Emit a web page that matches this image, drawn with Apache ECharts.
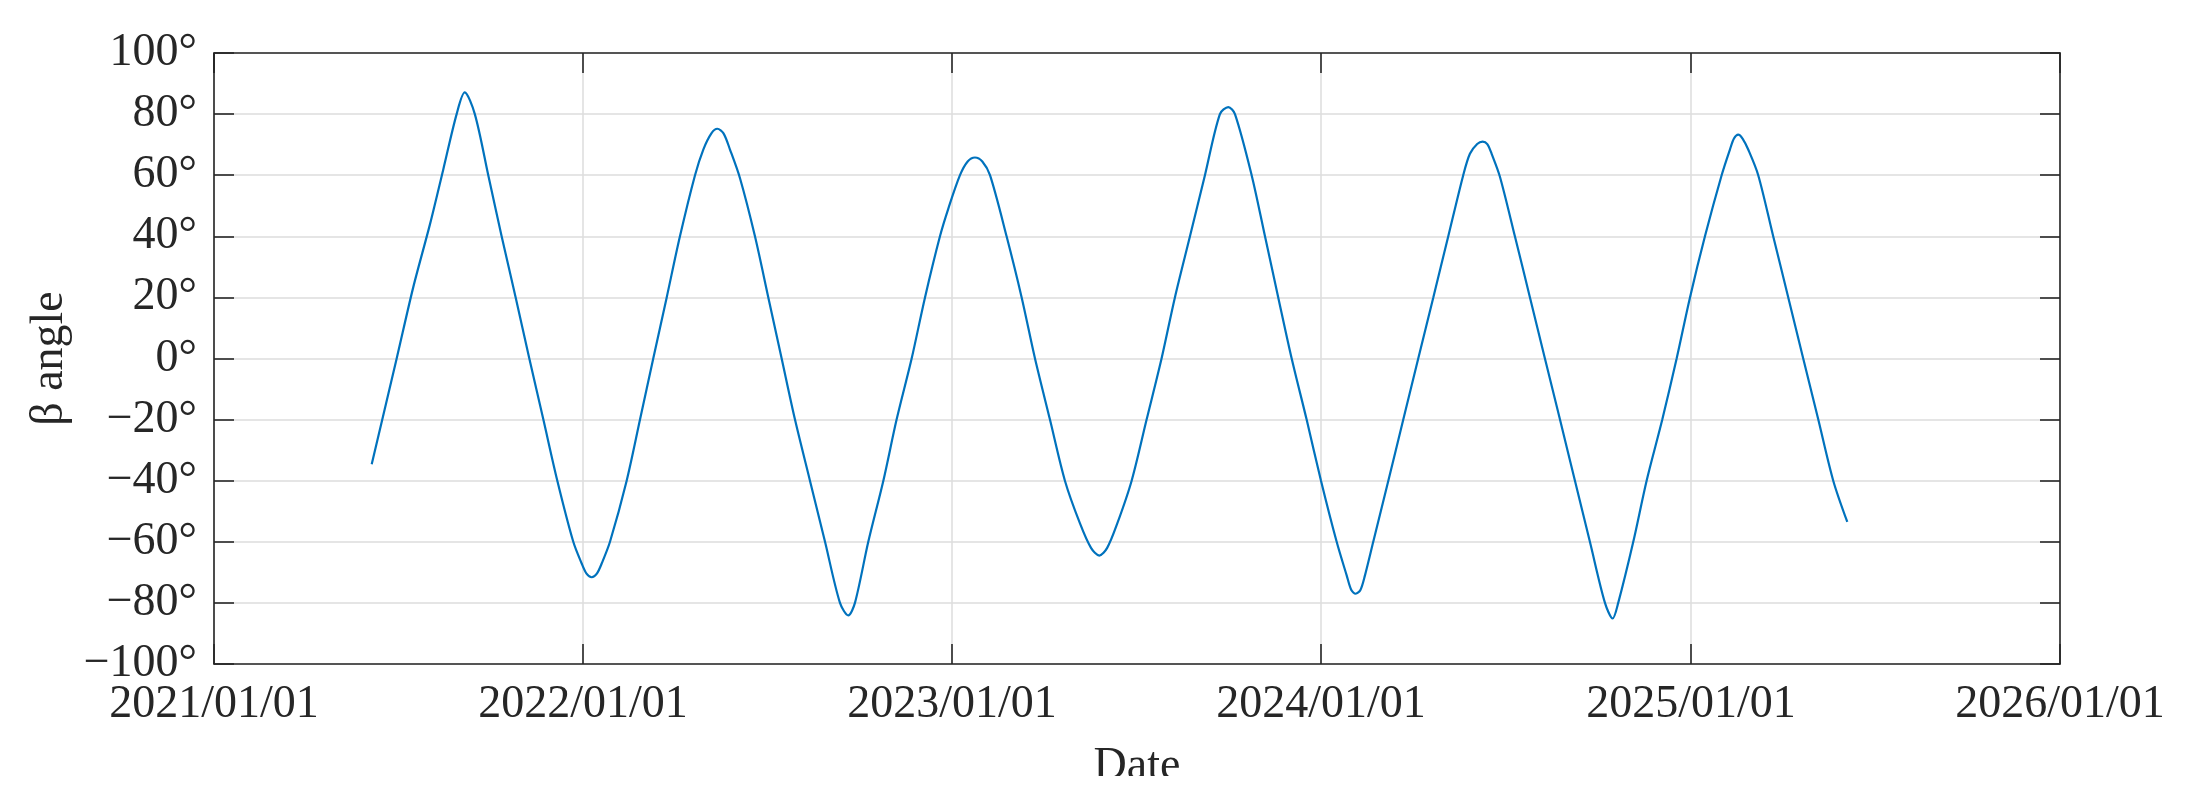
<!DOCTYPE html>
<html>
<head>
<meta charset="utf-8">
<script src="https://cdn.jsdelivr.net/npm/echarts@6/dist/echarts.min.js"></script>
<style>
html,body{margin:0;padding:0;background:#fff;}
#c{width:2204px;height:806px;}
</style>
</head>
<body>
<div id="c"></div>
<script>
// Day offsets from 2021/01/01
var dayOffsets = [156,180.7,197,213.6,226.8,240,248,258,271.3,284.5,298.4,311.9,325.8,339.6,355.4,363.7,368.5,373.6,378.7,383.5,391.7,408.2,421.4,434.5,447.8,460.9,475.8,484,492,497.9,504,510.4,520.3,535.1,548.3,561.5,574.7,589.5,604.4,619.2,627.4,634,647.2,662.1,675.2,690.1,703.3,718.1,726.3,737.9,745.5,752.7,760,767.6,784,798.9,812.1,826.9,841.7,856.6,867.5,875.7,883.5,893.5,907.7,922.5,937.3,950.5,965.4,980.2,995,1003.3,1009.9,1026.4,1039.6,1052.7,1066,1080.8,1095,1110.5,1120.4,1125,1129.3,1134,1138.5,1146.7,1161.6,1176.4,1191.2,1206.1,1220.9,1235.7,1242.3,1249.5,1254.9,1259.5,1263.8,1272,1286.8,1301.7,1316.5,1331.4,1346.2,1361,1375.9,1383.5,1389,1403.9,1417.1,1432.6,1446.8,1460,1474.8,1491.3,1499.5,1503.5,1507.7,1512,1517.6,1527.5,1542.3,1557.2,1572,1586.9,1601.7,1615.6];
// Beta angle values (degrees)
var betaAngle = [-34.6,0,23.2,43.9,61.9,80,87.1,80,60,40,20,0,-20,-40,-60,-67.1,-70.4,-71.6,-70.4,-67.1,-60,-40,-20,0,20,40,60,68.4,73.7,75.2,73.7,68.4,59,40,20,0,-20,-40,-60,-80,-84.1,-80,-60,-40,-20,0,20,40,49,60,64.5,65.8,64.5,60,40,20,0,-20,-40,-54,-62,-64.5,-62,-54,-40,-20,0,20,40,60,80,82.3,80,60,40,20,0,-20,-40,-60,-71,-75.8,-77,-75.8,-71,-60,-40,-20,0,20,40,60,67,70.2,71,70.2,67,59.5,40,20,0,-20,-40,-60,-80,-85.1,-80,-60,-40,-20,0,20,40,60,68.4,72,73.3,72,68.4,60,40,20,0,-20,-40,-53.5];
var yTicks = [-100,-80,-60,-40,-20,0,20,40,60,80,100];
var xStart = [2021,0,1];
var xEnd = [2026,0,1];

var DAY = 86400000;
var base = new Date(xStart[0], xStart[1], xStart[2]).getTime();
var data = dayOffsets.map(function(d,i){ return [base + d*DAY, betaAngle[i]]; });
var xMin = base;
var xMax = new Date(xEnd[0], xEnd[1], xEnd[2]).getTime();

function pad(n){ return (n<10?'0':'')+n; }
function fmtDate(v){
  var d = new Date(v + 12*3600000);
  return d.getFullYear()+'/'+pad(d.getMonth()+1)+'/'+pad(d.getDate());
}
function fmtDeg(v){
  return (v<0 ? '\u2212'+Math.abs(v) : String(v)) + '°';
}

var FONT = 'Liberation Serif';
var axisColor = '#262626';
var gridColor = '#dcdcdc';

var chart = echarts.init(document.getElementById('c'), null, {renderer:'canvas'});
chart.setOption({
  animation:false,
  backgroundColor:'#ffffff',
  grid:{left:214, top:53, width:1846, height:611, containLabel:false},
  graphic:[{
    type:'rect', left:0, top:776, z:100,
    shape:{x:0, y:0, width:2204, height:30},
    style:{fill:'#ffffff'}
  }],
  xAxis:[{
    type:'time', min:xMin, max:xMax, splitNumber:5,
    minInterval:365*DAY, maxInterval:366*DAY,
    position:'bottom',
    name:'Date', nameLocation:'middle', nameGap:80,
    nameTextStyle:{fontFamily:FONT, fontSize:46, color:'#262626'},
    axisLine:{show:true, onZero:false, lineStyle:{color:axisColor, width:1.6}},
    axisTick:{show:true, inside:true, length:20, lineStyle:{color:axisColor, width:1.6}},
    axisLabel:{show:true, formatter:fmtDate, fontFamily:FONT, fontSize:46, color:'#262626', margin:18, showMinLabel:true, showMaxLabel:true, hideOverlap:false},
    splitLine:{show:true, lineStyle:{color:gridColor, width:1.5}},
    minorTick:{show:false}
  },{
    type:'time', min:xMin, max:xMax, splitNumber:5,
    minInterval:365*DAY, maxInterval:366*DAY,
    position:'top',
    axisLine:{show:true, onZero:false, lineStyle:{color:axisColor, width:1.6}},
    axisTick:{show:true, inside:true, length:20, lineStyle:{color:axisColor, width:1.6}},
    axisLabel:{show:false},
    splitLine:{show:false}
  }],
  yAxis:[{
    type:'value', min:yTicks[0], max:yTicks[yTicks.length-1], interval:20,
    position:'left',
    name:'β angle', nameLocation:'middle', nameGap:137, nameRotate:90,
    nameTextStyle:{fontFamily:FONT, fontSize:46, color:'#262626'},
    axisLine:{show:true, onZero:false, lineStyle:{color:axisColor, width:1.6}},
    axisTick:{show:true, inside:true, length:20, lineStyle:{color:axisColor, width:1.6}},
    axisLabel:{formatter:fmtDeg, fontFamily:FONT, fontSize:46, color:'#262626', margin:17},
    splitLine:{show:true, lineStyle:{color:gridColor, width:1.5}}
  },{
    type:'value', min:yTicks[0], max:yTicks[yTicks.length-1], interval:20,
    position:'right',
    axisLine:{show:true, onZero:false, lineStyle:{color:axisColor, width:1.6}},
    axisTick:{show:true, inside:true, length:20, lineStyle:{color:axisColor, width:1.6}},
    axisLabel:{show:false},
    splitLine:{show:false}
  }],
  series:[{
    type:'line', xAxisIndex:0, yAxisIndex:0,
    data:data, showSymbol:false, symbol:'none',
    smooth:0.3,
    lineStyle:{color:'#0072BD', width:2.2},
    z:5
  }]
});
</script>
</body>
</html>
